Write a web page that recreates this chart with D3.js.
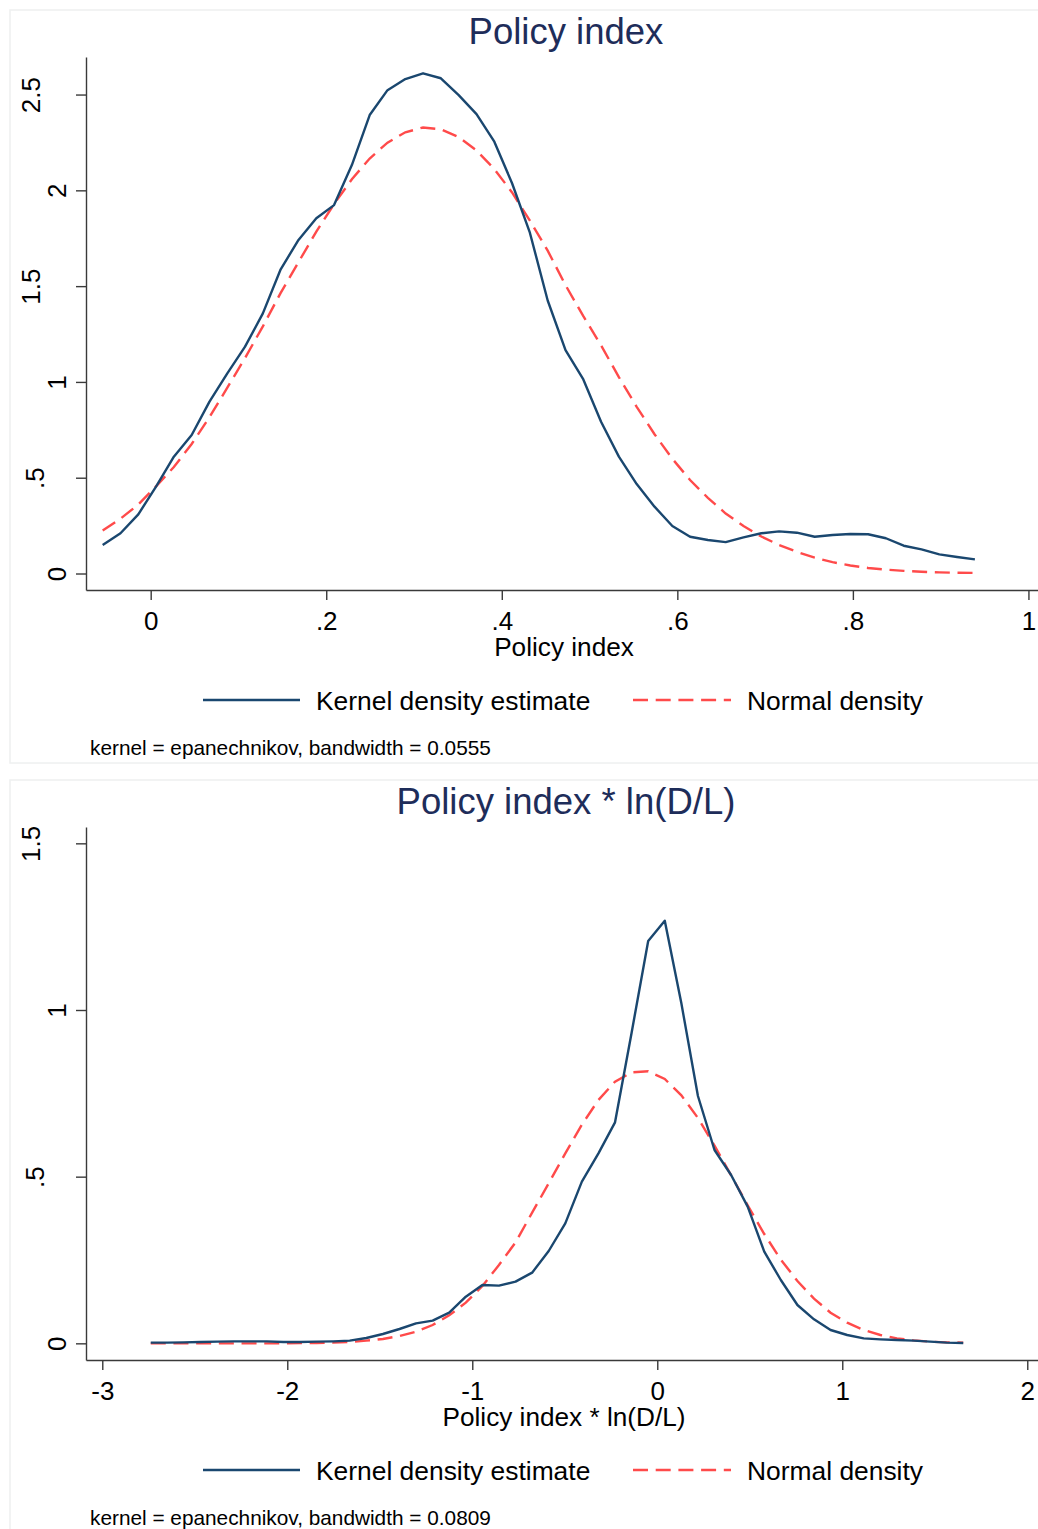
<!DOCTYPE html>
<html>
<head>
<meta charset="utf-8">
<script src="https://cdn.jsdelivr.net/npm/d3@7/dist/d3.min.js"></script>
<style>
  body { margin: 0; background: #fff; }
  text { font-family: "Liberation Sans", Arial, sans-serif; }
</style>
</head>
<body>
<div id="chart-area"></div>
<script>
// ---- data ----
// Panel 1: Policy index (50 evaluation points)
const policyX = [-0.0547, -0.0344, -0.0141, 0.0061, 0.0264, 0.0467, 0.0670, 0.0873, 0.1075, 0.1278,
  0.1481, 0.1684, 0.1887, 0.2089, 0.2292, 0.2495, 0.2698, 0.2901, 0.3103, 0.3306,
  0.3509, 0.3712, 0.3915, 0.4117, 0.4320, 0.4523, 0.4726, 0.4929, 0.5131, 0.5334,
  0.5537, 0.5740, 0.5943, 0.6145, 0.6348, 0.6551, 0.6754, 0.6957, 0.7159, 0.7362,
  0.7565, 0.7768, 0.7971, 0.8173, 0.8376, 0.8579, 0.8782, 0.8985, 0.9187, 0.9390];
const policyKernel = [0.149, 0.210, 0.309, 0.453, 0.610, 0.723, 0.897, 1.045, 1.184, 1.358,
  1.588, 1.741, 1.854, 1.923, 2.132, 2.393, 2.523, 2.581, 2.611, 2.585,
  2.497, 2.398, 2.254, 2.037, 1.779, 1.425, 1.166, 1.013, 0.792, 0.610,
  0.467, 0.349, 0.248, 0.192, 0.175, 0.164, 0.189, 0.210, 0.220, 0.213,
  0.192, 0.201, 0.206, 0.205, 0.184, 0.145, 0.126, 0.100, 0.086, 0.074];
const policyNormal = [0.224, 0.286, 0.360, 0.455, 0.556, 0.676, 0.816, 0.970, 1.125, 1.290,
  1.465, 1.625, 1.785, 1.928, 2.058, 2.166, 2.249, 2.303, 2.328, 2.319,
  2.278, 2.208, 2.111, 1.989, 1.842, 1.685, 1.505, 1.343, 1.191, 1.025,
  0.870, 0.727, 0.599, 0.488, 0.395, 0.313, 0.248, 0.193, 0.149, 0.113,
  0.083, 0.059, 0.042, 0.029, 0.020, 0.014, 0.009, 0.006, 0.004, 0.003];
const policyXTicks = [0, 0.2, 0.4, 0.6, 0.8, 1];
const policyXLabels = ["0", ".2", ".4", ".6", ".8", "1"];
const policyYTicks = [0, 0.5, 1, 1.5, 2, 2.5];
const policyYLabels = ["0", ".5", "1", "1.5", "2", "2.5"];

// Panel 2: Policy index * ln(D/L)
const interX = [-2.7380, -2.6484, -2.5587, -2.4691, -2.3795, -2.2899, -2.2002, -2.1106, -2.0210, -1.9313,
  -1.8417, -1.7521, -1.6624, -1.5728, -1.4832, -1.3935, -1.3039, -1.2143, -1.1247, -1.0350,
  -0.9454, -0.8558, -0.7661, -0.6765, -0.5869, -0.4972, -0.4076, -0.3180, -0.2284, -0.1387,
  -0.0491, 0.0405, 0.1302, 0.2198, 0.3094, 0.3991, 0.4887, 0.5783, 0.6679, 0.7576,
  0.8472, 0.9368, 1.0265, 1.1161, 1.2057, 1.2954, 1.3850, 1.4746, 1.5642, 1.6539];
const interKernel = [0.002, 0.002, 0.003, 0.004, 0.005, 0.006, 0.006, 0.006, 0.004, 0.004,
  0.005, 0.006, 0.008, 0.016, 0.028, 0.043, 0.060, 0.068, 0.092, 0.140,
  0.175, 0.173, 0.185, 0.212, 0.277, 0.360, 0.485, 0.570, 0.663, 0.932,
  1.207, 1.268, 1.020, 0.742, 0.580, 0.505, 0.410, 0.275, 0.190, 0.115,
  0.072, 0.040, 0.025, 0.015, 0.012, 0.010, 0.008, 0.005, 0.002, 0.001];
const interNormal = [0.000, 0.000, 0.000, 0.000, 0.000, 0.000, 0.000, 0.000, 0.000, 0.001,
  0.001, 0.002, 0.004, 0.008, 0.013, 0.022, 0.035, 0.055, 0.084, 0.122,
  0.172, 0.235, 0.303, 0.392, 0.480, 0.570, 0.656, 0.730, 0.785, 0.813,
  0.816, 0.793, 0.744, 0.676, 0.593, 0.504, 0.414, 0.328, 0.251, 0.187,
  0.134, 0.092, 0.062, 0.040, 0.025, 0.015, 0.009, 0.005, 0.003, 0.002];
const interXTicks = [-3, -2, -1, 0, 1, 2];
const interXLabels = ["-3", "-2", "-1", "0", "1", "2"];
const interYTicks = [0, 0.5, 1, 1.5];
const interYLabels = ["0", ".5", "1", "1.5"];

const legendLabels = ["Kernel density estimate", "Normal density"];

const panels = [
  { top: 0, title: "Policy index", xTitle: "Policy index",
    note: "kernel = epanechnikov, bandwidth = 0.0555",
    xDomain: [-0.0737, 1.0109], yDomain: [-0.0861, 2.696],
    x: policyX, kernel: policyKernel, normal: policyNormal,
    xTicks: policyXTicks, xLabels: policyXLabels, yTicks: policyYTicks, yLabels: policyYLabels },
  { top: 770, title: "Policy index * ln(D/L)", xTitle: "Policy index * ln(D/L)",
    note: "kernel = epanechnikov, bandwidth = 0.0809",
    xDomain: [-3.088, 2.058], yDomain: [-0.05, 1.549],
    x: interX, kernel: interKernel, normal: interNormal,
    xTicks: interXTicks, xLabels: interXLabels, yTicks: interYTicks, yLabels: interYLabels }
];

// ---- drawing ----
const W = 1038, H = 1529;
const navy = "#1a476f", red = "#ff4a4a";

const svg = d3.select("#chart-area").append("svg")
  .attr("width", W).attr("height", H);

const plot = { left: 86, right: 1038, top: 57, bottom: 590 };

panels.forEach(p => {
  const g = svg.append("g").attr("transform", `translate(0,${p.top})`);

  // outer frame of each graph
  g.append("rect")
    .attr("x", 10).attr("y", 10).attr("width", W).attr("height", 753)
    .attr("fill", "none").attr("stroke", "#eef0f0").attr("stroke-width", 1.5);

  const xScale = d3.scaleLinear().domain(p.xDomain).range([plot.left, plot.right]);
  const yScale = d3.scaleLinear().domain(p.yDomain).range([plot.bottom, plot.top]);

  /* Axes */
  const xAxis = g.append("g")
    .attr("transform", `translate(0,${plot.bottom})`)
    .call(d3.axisBottom(xScale).tickValues(p.xTicks).tickSize(10).tickSizeOuter(0)
      .tickFormat((d, i) => p.xLabels[i]));
  xAxis.selectAll("text").attr("font-size", 26).attr("fill", "#000").attr("dy", 0).attr("y", 40);

  const yAxis = g.append("g")
    .attr("transform", `translate(${plot.left},0)`)
    .call(d3.axisLeft(yScale).tickValues(p.yTicks).tickSize(10).tickSizeOuter(0)
      .tickFormat((d, i) => p.yLabels[i]));
  // labels with a decimal point sit further out from the axis, as in the source graph
  yAxis.selectAll("text")
    .attr("font-size", 26).attr("fill", "#000")
    .attr("text-anchor", "middle").attr("x", 0).attr("y", 0).attr("dy", 0)
    .attr("transform", function () {
      const t = d3.select(this).text();
      const off = t === ".5" ? -42 : (t.includes(".") ? -46 : -20);
      return `translate(${off},0) rotate(-90)`;
    });

  [xAxis, yAxis].forEach(a => {
    a.select(".domain").attr("stroke", "#3a3a3a").attr("stroke-width", 1.4);
    a.selectAll(".tick line").attr("stroke", "#3a3a3a").attr("stroke-width", 1.4);
  });

  /* Curves */
  const line = d3.line().x((d, i) => xScale(p.x[i])).y(d => yScale(d));

  g.append("path").datum(p.normal)
    .attr("d", line).attr("fill", "none")
    .attr("stroke", red).attr("stroke-width", 2.4)
    .attr("stroke-dasharray", "15,7.7");

  g.append("path").datum(p.kernel)
    .attr("d", line).attr("fill", "none")
    .attr("stroke", navy).attr("stroke-width", 2.4)
    .attr("stroke-linejoin", "round");

  /* Titles */
  g.append("text").attr("x", 566).attr("y", 44)
    .attr("text-anchor", "middle").attr("font-size", 36.5).attr("fill", "#1e2d5a")
    .text(p.title);

  g.append("text").attr("x", 564).attr("y", 656)
    .attr("text-anchor", "middle").attr("font-size", 26.2).attr("fill", "#000")
    .text(p.xTitle);

  /* Legend */
  const lg = g.append("g").attr("transform", "translate(0,700)");
  lg.append("line").attr("x1", 203).attr("x2", 300).attr("y1", 0).attr("y2", 0)
    .attr("stroke", navy).attr("stroke-width", 2.4);
  lg.append("text").attr("x", 316).attr("y", 10).attr("font-size", 26.4).text(legendLabels[0]);
  lg.append("line").attr("x1", 633).attr("x2", 731).attr("y1", 0).attr("y2", 0)
    .attr("stroke", red).attr("stroke-width", 2.4).attr("stroke-dasharray", "15,7.7");
  lg.append("text").attr("x", 747).attr("y", 10).attr("font-size", 26.4).text(legendLabels[1]);

  /* Note */
  g.append("text").attr("x", 90).attr("y", 755)
    .attr("font-size", 20.8).attr("fill", "#000").text(p.note);
});
</script>
</body>
</html>
